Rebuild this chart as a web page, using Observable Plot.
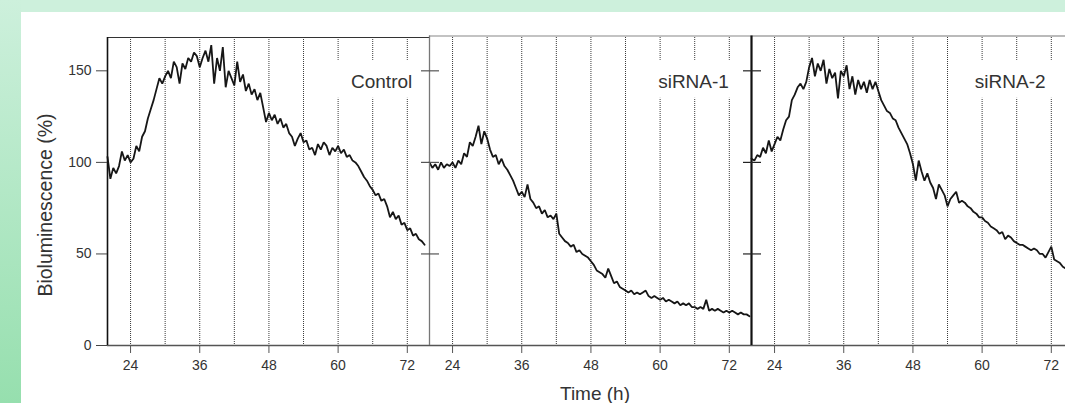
<!DOCTYPE html>
<html><head><meta charset="utf-8">
<script src="https://cdn.jsdelivr.net/npm/d3@7"></script>
<script src="https://cdn.jsdelivr.net/npm/@observablehq/plot@0.6"></script>
<style>
html,body{margin:0;padding:0;width:1065px;height:403px;overflow:hidden;background:#fff;font-family:"Liberation Sans",Arial,sans-serif;}
#topband{position:absolute;left:0;top:0;width:1065px;height:12px;background:#cdf0dc;}
#leftband{position:absolute;left:0;top:0;width:21px;height:403px;background:linear-gradient(#cdf0dc,#96dfae);}
.panel{position:absolute;top:12px;width:332px;}
.panel svg{max-width:none !important;}
#ylabel{position:absolute;left:46px;top:205px;transform:translate(-50%,-50%) rotate(-90deg);font-size:19.5px;line-height:1;color:#333;white-space:nowrap;}
#xlabel{position:absolute;left:595px;top:384px;transform:translateX(-50%);font-size:19px;line-height:1;color:#333;white-space:nowrap;}
</style></head>
<body>
<div id="topband"></div><div id="leftband"></div>
<div id="p0" class="panel" style="left:21px;width:408px"></div>
<div id="p1" class="panel" style="left:419px"></div>
<div id="p2" class="panel" style="left:741px"></div>
<div id="ylabel">Bioluminescence (%)</div>
<div id="xlabel">Time (h)</div>
<script>
const panelNames = ["Control", "siRNA-1", "siRNA-2"];
const hours = [20,20.5,21,21.5,22,22.5,23,23.5,24,24.5,25,25.5,26,26.5,27,27.5,28,28.5,29,29.5,30,30.5,31,31.5,32,32.5,33,33.5,34,34.5,35,35.5,36,36.5,37,37.5,38,38.5,39,39.5,40,40.5,41,41.5,42,42.5,43,43.5,44,44.5,45,45.5,46,46.5,47,47.5,48,48.5,49,49.5,50,50.5,51,51.5,52,52.5,53,53.5,54,54.5,55,55.5,56,56.5,57,57.5,58,58.5,59,59.5,60,60.5,61,61.5,62,62.5,63,63.5,64,64.5,65,65.5,66,66.5,67,67.5,68,68.5,69,69.5,70,70.5,71,71.5,72,72.5,73,73.5,74,74.5,75,75.5];
const control = [103,91,97,94,98,106,101,104,100,102,
  109,106,114,117,124,129,134,140,146,143,
  147,150,146,155,152,143,154,151,157,155,
  160,158,152,157,161,155,164,143,157,150,
  163,141,150,146,142,155,144,148,139,143,
  137,140,134,138,130,122,127,123,126,121,
  124,119,121,116,114,109,113,116,111,112,
  107,108,104,110,107,111,109,104,108,106,
  109,105,107,103,104,101,100,98,95,92,
  90,87,85,82,83,79,80,76,70,73,
  69,71,66,67,63,64,60,61,58,57,
  55];
const sirna1 = [100,97,99,96,100,97,99,98,100,97,
  101,99,105,103,111,109,114,120,110,117,
  113,107,103,104,99,102,98,96,93,90,
  86,82,84,81,88,80,78,75,76,72,
  74,70,71,69,72,61,59,57,56,54,
  55,51,52,50,49,48,46,44,41,40,
  39,37,42,38,34,35,32,31,30,29,
  30,28,29,28,29,30,27,26,27,26,
  25,26,24,25,24,23,24,22,23,22,
  23,21,21,20,21,20,25,19,20,19,
  20,19,18,19,18,19,18,17,18,17,
  17,16];
const sirna2 = [102,101,104,103,108,105,112,106,110,114,
  112,118,123,125,134,137,141,143,140,144,
  152,157,147,154,150,156,143,151,146,149,
  135,150,147,153,140,147,137,145,140,144,
  138,145,140,144,139,134,131,128,127,124,
  123,119,116,113,110,105,99,90,101,95,
  90,94,89,86,80,88,85,82,76,80,
  82,84,78,79,78,76,75,73,72,70,
  70,68,67,65,64,63,61,62,58,60,
  59,57,56,55,55,54,53,52,53,52,
  50,50,48,51,54,47,46,45,43,42,
  41,40];
const seriesList = [control, sirna1, sirna2];
const xTicks = [24, 36, 48, 60, 72];
const gridHours = [24, 30, 36, 42, 48, 54, 60, 66, 72];
const yTicks = [0, 50, 100, 150];
const innerYTicks = [50, 100, 150];
const xDomain = [20, 75.85];
const yDomain = [0, 168.2];
const labelHours = [72.86, 71.93, 71.0];
const labelValue = 144;
const labelBox = {h1: 57, v1: 135, v2: 155.7};

const frameStyles = [
  {left: "#111", leftW: 1.6, top: "#333", raise: 0},
  {left: "#777", leftW: 1.3, top: "#888", raise: 1.5},
  {left: "#111", leftW: 2.2, top: "#777", raise: 1.5}
];

function buildPanel(i) {
  const first = i === 0;
  const ml = first ? 86 : 10;
  const ser = seriesList[i];
  const data = ser.map((v, j) => ({h: hours[j], v}));
  const fs = frameStyles[i];
  const marks = [
    Plot.ruleX(gridHours, {stroke: "#3a3a3a", strokeWidth: 1, strokeDasharray: "1,1"}),
    Plot.rect([{x1: labelBox.h1, x2: xDomain[1], y1: labelBox.v1, y2: labelBox.v2}], {x1: "x1", x2: "x2", y1: "y1", y2: "y2", fill: "white"}),
    Plot.text([{h: labelHours[i], v: labelValue, t: panelNames[i]}], {x: "h", y: "v", text: "t", textAnchor: "end", fontSize: 19, fill: "#333"}),
    Plot.line(data, {x: "h", y: "v", stroke: "#161616", strokeWidth: 1.8, strokeLinejoin: "miter"}),
    Plot.ruleY([yDomain[1]], {stroke: fs.top, strokeWidth: 1.2, dy: -fs.raise}),
    Plot.ruleY([0], {stroke: "#555", strokeWidth: 1.3}),
    Plot.ruleX([xDomain[0]], {stroke: fs.left, strokeWidth: fs.leftW, insetTop: -fs.raise}),
    Plot.axisX(xTicks, {tickSize: 8, tickPadding: 7, label: null, fontSize: 14, stroke: "#555", fill: "#333"})
  ];
  if (first) {
    marks.push(Plot.axisY(yTicks, {anchor: "left", tickSize: 11, tickPadding: 5, label: null, fontSize: 14, stroke: "#444", fill: "#333"}));
  } else {
    marks.push(Plot.ruleY(innerYTicks, {x1: xDomain[0], x2: xDomain[0], insetLeft: -8, insetRight: -10, stroke: i === 1 ? "#555" : "#222", strokeWidth: 1.2}));
  }
  return Plot.plot({
    width: ml + 322,
    height: 391,
    marginLeft: ml, marginRight: 0, marginTop: 25, marginBottom: 58,
    x: {domain: xDomain},
    y: {domain: yDomain, axis: first ? undefined : null},
    style: {background: "transparent", color: "#333", fontFamily: "'Liberation Sans', Arial, sans-serif", fontSize: "14px", maxWidth: "none"},
    marks
  });
}

for (let i = 0; i < 3; i++) {
  document.getElementById("p" + i).appendChild(buildPanel(i));
}
</script>
</body></html>
